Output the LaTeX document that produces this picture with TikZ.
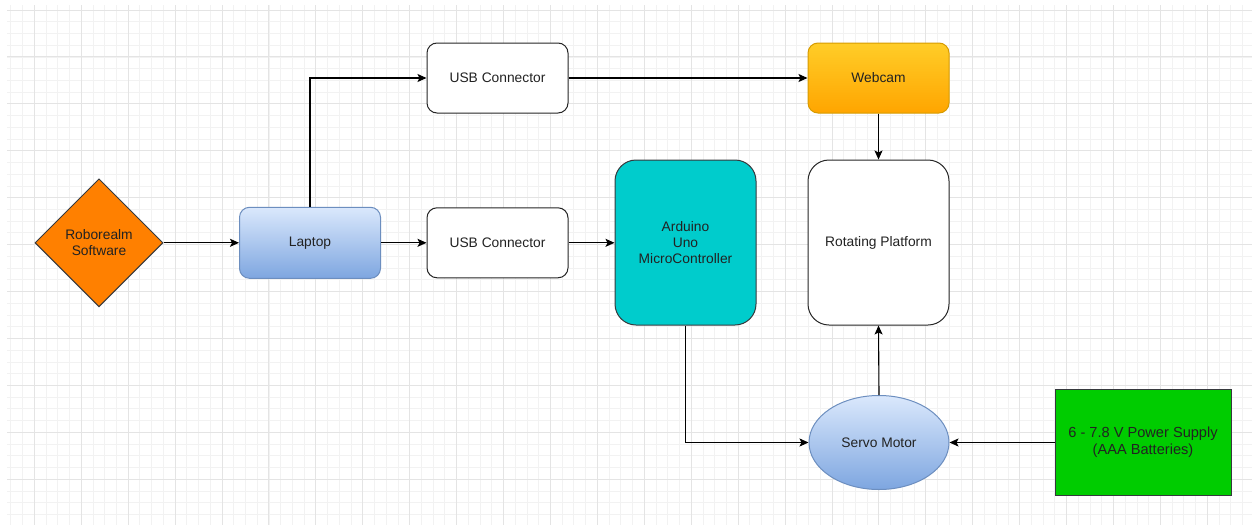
\documentclass[tikz,border=0pt]{standalone}
\usepackage{fontspec}
\setmainfont{Liberation Sans}
\usetikzlibrary{shapes.geometric,arrows.meta}
\definecolor{gridminor}{HTML}{F2F2F2}
\definecolor{gridmajor}{HTML}{E4E4E4}
\definecolor{orangefill}{HTML}{FF8000}
\definecolor{bluetop}{HTML}{DAE8FC}
\definecolor{bluebot}{HTML}{7EA6E0}
\definecolor{blueline}{HTML}{6C8EBF}
\definecolor{yellowtop}{HTML}{FFCD28}
\definecolor{yellowbot}{HTML}{FFA500}
\definecolor{yellowline}{HTML}{D79B00}
\definecolor{tealfill}{HTML}{00CCCC}
\definecolor{greenfill}{HTML}{00CC00}
\definecolor{darkline}{HTML}{36393D}
\definecolor{txt}{HTML}{222222}
\tikzset{
  base/.style={inner sep=0pt, text=txt, font=\fontsize{13.8}{16.4}\selectfont, align=center, line width=1pt},
  smallbox/.style={base, rectangle, rounded corners=10pt, minimum width=141pt, minimum height=70pt},
  tallbox/.style={base, rectangle, rounded corners=21pt, minimum width=141pt, minimum height=165pt},
  bluegrad/.style={top color=bluetop, bottom color=bluebot, draw=blueline},
  arr/.style={draw=black, line width=1.1pt, -{Stealth[length=9pt,width=8pt,inset=2pt]}},
}
\begin{document}
\begin{tikzpicture}[x=1pt,y=-1pt]
\useasboundingbox (0,0) rectangle (1252,525);
\fill[white] (0,0) rectangle (1252,525);
\begin{scope}
\clip (7,5) rectangle (1252,525);
\foreach \i in {-2,...,104} \draw[gridminor, line width=0.8pt] ({34.3+\i*11.73},5) -- ({34.3+\i*11.73},525);
\foreach \j in {0,...,44} \draw[gridminor, line width=0.8pt] (7,{10+\j*11.73}) -- (1252,{10+\j*11.73});
\foreach \i in {0,...,26} \draw[gridmajor, line width=0.9pt] ({34.3+\i*46.92},5) -- ({34.3+\i*46.92},525);
\foreach \j in {0,...,11} \draw[gridmajor, line width=0.9pt] (7,{10+\j*46.92}) -- (1252,{10+\j*46.92});
\end{scope}

\node[base, diamond, aspect=1, minimum width=128pt, minimum height=128pt, fill=orangefill, draw=darkline] (robo) at (99,242.8) {Roborealm\\Software};
\node[smallbox, bluegrad, minimum height=71pt] (laptop) at (310,242.8) {Laptop};
\node[smallbox, fill=white, draw=black!85] (usbtop) at (497.5,78) {USB Connector};
\node[smallbox, fill=white, draw=black!85] (usbmid) at (497.5,242.8) {USB Connector};
\node[smallbox, top color=yellowtop, bottom color=yellowbot, draw=yellowline] (webcam) at (878.5,78) {Webcam};
\node[tallbox, fill=tealfill, draw=darkline] (arduino) at (685.5,242.5) {Arduino\\Uno\\MicroController};
\node[tallbox, fill=white, draw=black!85] (platform) at (878.5,242.5) {Rotating Platform};
\node[base, ellipse, bluegrad, minimum width=140pt, minimum height=94pt] (servo) at (879,442.5) {Servo Motor};
\node[base, rectangle, fill=greenfill, draw=darkline, minimum width=176pt, minimum height=106pt, font=\fontsize{14.6}{17}\selectfont] (power) at (1143,442.5) {6 - 7.8 V Power Supply\\(AAA Batteries)};

\draw[arr] (robo.east) -- (laptop.west);
\draw[arr] (laptop.north) |- (usbtop.west);
\draw[arr] (laptop.east) -- (usbmid.west);
\draw[arr] (usbmid.east) -- (arduino.west |- usbmid.east);
\draw[arr] (usbtop.east) -- (webcam.west);
\draw[arr] (webcam.south) -- (platform.north);
\draw[arr] (arduino.south) |- (servo.west);
\draw[arr] (servo.north) -- (platform.south);
\draw[arr] (power.west) -- (servo.east);
\end{tikzpicture}
\end{document}
